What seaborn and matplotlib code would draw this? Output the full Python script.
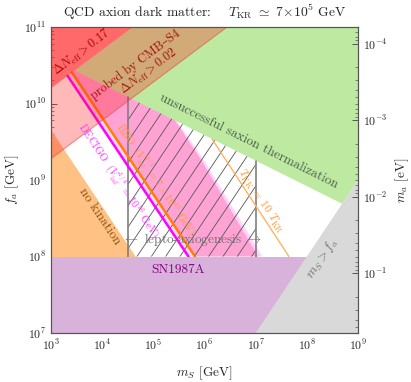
import numpy as np
import matplotlib
matplotlib.use("Agg")
import matplotlib.pyplot as plt
from matplotlib.patches import Polygon
import seaborn as sns

# ── Data (GeV) ───────────────────────────────────────────────────────────────
MS_RANGE = [1e3, 1e9]
FA_RANGE = [1e7, 1e11]
MA_TIMES_FA = 6.0e6          # m_a [eV] * f_a [GeV]

neff017_ms = [1e3, 10**4.60]         # Delta N_eff > 0.17 boundary
neff017_fa = [10**10.20, 1e11]
cmbs4_ms = [1e3, 10**6.44]           # CMB-S4 (Delta N_eff > 0.02) boundary
cmbs4_fa = [10**9.28, 1e11]
therm_ms = [10**3.464, 10**8.69]     # saxion thermalization boundary
therm_fa = [10**10.432, 10**8.69]
kin_ms = [1e3, 10**4.654]            # kination boundary
kin_fa = [10**9.654, 1e8]
decigo_ms = [10**3.324, 10**5.686]
decigo_fa = [10**10.362, 1e8]
decigo_edge_ms = [10**5.47, 10**5.98, 10**7.13]
decigo_edge_fa = [10**9.763, 10**9.27, 1e8]
bbo_ms = [10**3.409, 10**5.814]
bbo_fa = [10**10.405, 1e8]
bbo_edge_ms = [10**5.42, 10**5.91, 10**7.05]
bbo_edge_fa = [10**9.78, 10**9.29, 1e8]
tkk_ms = [10**6.146, 10**7.65]       # T_KK = 10 T_KR
tkk_fa = [10**9.538, 1e8]
lepto_ms = [10**4.5, 1e7]
lepto_fa_top = [10**10.085, 10**9.253]
sn_fa = 1e8

# ── Style ────────────────────────────────────────────────────────────────────
sns.set_style("ticks")
plt.rcParams.update({
    "font.family": ["cmr10", "DejaVu Serif"],
    "mathtext.fontset": "cm",
    "axes.formatter.use_mathtext": True,
    "axes.unicode_minus": False,
    "font.size": 9.5,
    "axes.edgecolor": "#555555",
    "axes.linewidth": 0.8,
})

fig = plt.figure(figsize=(4.11, 3.82), dpi=100)
ax = fig.add_axes([51 / 411, 1 - 333 / 382, 307 / 411, 306 / 382])
ax.set_xscale("log")
ax.set_yscale("log")
ax.set_xlim(MS_RANGE)
ax.set_ylim(FA_RANGE)


def poly(xs, ys, **kw):
    p = Polygon(np.column_stack([xs, ys]), closed=True, **kw)
    ax.add_patch(p)
    return p


x0, x1 = MS_RANGE
y0, y1 = FA_RANGE

# unsuccessful saxion thermalization
poly([therm_ms[0], therm_ms[1], x1, x1, neff017_ms[1]],
     [therm_fa[0], therm_fa[1], x1, y1, y1],
     facecolor="#BEE9A1", edgecolor="none", zorder=1)
# no kination
poly([x0, x0, kin_ms[1], kin_ms[1]], [y0, kin_fa[0], kin_fa[1], y0],
     facecolor="#FFC184", edgecolor="none", zorder=1)
# DECIGO / BBO reach
poly([decigo_ms[0], therm_ms[0]] + decigo_edge_ms + [decigo_ms[1]],
     [decigo_fa[0], therm_fa[0]] + decigo_edge_fa + [decigo_fa[1]],
     facecolor="#FF33FF", alpha=0.22, edgecolor="none", zorder=2)
poly([bbo_ms[0], therm_ms[0]] + bbo_edge_ms + [bbo_ms[1]],
     [bbo_fa[0], therm_fa[0]] + bbo_edge_fa + [bbo_fa[1]],
     facecolor="#FF4D88", alpha=0.35, edgecolor="none", zorder=2)

# lepto-axiogenesis hatched band
lepto = poly([lepto_ms[0], lepto_ms[0], lepto_ms[1], lepto_ms[1]],
             [sn_fa, lepto_fa_top[0], lepto_fa_top[1], sn_fa],
             facecolor="none", edgecolor="none", zorder=3)
hx = np.array([1e3, 1e9])
for c in np.arange(3.319 - 0.28 * 12, 3.319 + 0.28 * 20, 0.28):
    ln, = ax.plot(hx, hx * 10**c, color="#555555", lw=0.6, zorder=3)
    ln.set_clip_path(lepto)
for m, ftop in zip(lepto_ms, lepto_fa_top):
    ax.plot([m, m], [sn_fa, ftop], color="#808080", lw=1.2, zorder=3)

# GW lines
sns.lineplot(x=decigo_ms, y=decigo_fa, color="#FF00FF", lw=1.8, ax=ax, zorder=4)
sns.lineplot(x=bbo_ms, y=bbo_fa, color="#FF7F00", lw=1.8, ax=ax, zorder=4)
sns.lineplot(x=tkk_ms, y=tkk_fa, color="#FFB366", lw=1.0, ax=ax, zorder=4)

# Delta N_eff regions
poly([x0, x0, cmbs4_ms[1]], [y1, cmbs4_fa[0], y1],
     facecolor=(1, 0.1, 0.1, 0.3), edgecolor=(0.9, 0.3, 0.3, 0.6), lw=0.8, zorder=5)
poly([x0, x0, neff017_ms[1]], [y1, neff017_fa[0], y1],
     facecolor=(1, 0.1, 0.1, 0.5), edgecolor="none", zorder=5)

# SN1987A and m_S > f_a
ax.fill_between(MS_RANGE, [y0, y0], [sn_fa, sn_fa], color="#D8B2DA", lw=0, zorder=6)
poly([y0, x1, x1], [y0, x1, y0], facecolor="#D9D9D9", edgecolor="none", zorder=6)


def label(x, y, s, slope, **kw):
    """Place text rotated along a line of the given log-log slope."""
    p0 = ax.transData.transform((x, y))
    p1 = ax.transData.transform((x * 10, y * 10**slope))
    ang = np.degrees(np.arctan2(p1[1] - p0[1], p1[0] - p0[0]))
    ax.text(x, y, s, rotation=ang, rotation_mode="anchor",
            ha="center", va="center", zorder=7, **kw)


label(10**3.606, 10**10.673, r"$\Delta N_{\rm eff} > 0.17$", 0.5, color="#B00000", fontsize=9)
label(10**4.661, 10**10.503, "probed by CMB–S4", 0.5, color="#A01010", fontsize=9)
label(10**4.915, 10**10.412, r"$\Delta N_{\rm eff} > 0.02$", 0.5, color="#A01010", fontsize=9)
label(10**6.87, 10**9.51, "unsuccessful saxion thermalization", -1 / 3, color="#4E5E4E")
label(10**3.958, 10**8.529, "no kination", -1, color="#8A5510")
label(10**8.296, 10**7.98, r"$m_S > f_a$", 1, color="#707070")
label(10**7.104, 10**8.725, r"$T_{\rm KK}$ = 10 $T_{\rm KR}$", -1, color="#FF9933", fontsize=8.5)
label(10**4.348, 10**9.0, r"DECIGO  ($V_{\rm inf}^{1/4}$ = $10^{16}$ GeV)", -1,
      color="#FF33FF", fontsize=7.5)
label(10**5.07, 10**9.013, r"BBO  ($V_{\rm inf}^{1/4}$ = $7\times10^{15}$ GeV)", -1,
      color="#FF9933", fontsize=7.5)
ax.text(10**5.755, 10**8.216, r"$\leftarrow$ lepto-axiogenesis $\rightarrow$",
        ha="center", va="center", color="#707070", zorder=7)
ax.text(10**5.482, 10**7.824, "SN1987A", ha="center", va="center",
        color="#800080", zorder=7)

# ── Axes ─────────────────────────────────────────────────────────────────────
ax.tick_params(which="both", direction="in", color="#555555", top=False, right=False,
               labelsize=8.5)
ax.tick_params(which="major", length=4.5, width=0.7)
ax.tick_params(which="minor", length=2.5, width=0.5)
ax.set_xlabel(r"$m_S$ [GeV]", labelpad=8)
ax.set_ylabel(r"$f_a$ [GeV]", labelpad=2)
ax.set_title(r"QCD axion dark matter:    $T_{\rm KR}$ $\simeq$ 7$\times$10$^5$ GeV",
             fontsize=9.8, pad=7)

ax2 = ax.twinx()
ax2.set_yscale("log")
ax2.set_ylim(MA_TIMES_FA / FA_RANGE[0], MA_TIMES_FA / FA_RANGE[1])
ax2.tick_params(which="both", direction="in", color="#555555", labelsize=8.5)
ax2.tick_params(which="major", length=4.5, width=0.7)
ax2.tick_params(which="minor", length=2.5, width=0.5)
ax2.set_ylabel(r"$m_a$ [eV]", labelpad=4)
for a in (ax, ax2):
    for s in a.spines.values():
        s.set_zorder(8)

fig.savefig("out.png", dpi=100)
